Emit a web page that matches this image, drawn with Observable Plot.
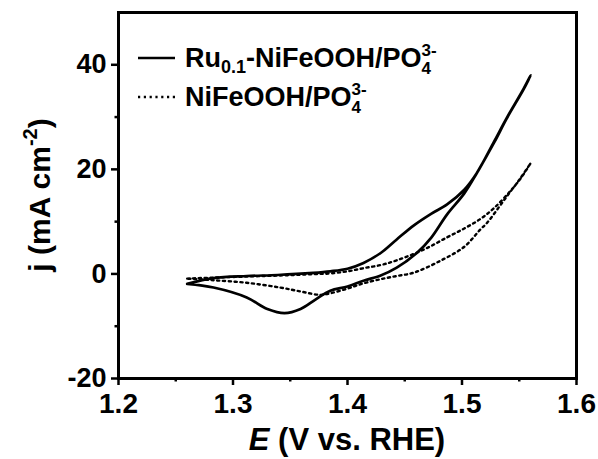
<!DOCTYPE html>
<html>
<head>
<meta charset="utf-8">
<script src="https://cdn.jsdelivr.net/npm/d3@7"></script>
<script src="https://cdn.jsdelivr.net/npm/@observablehq/plot@0.6"></script>
<style>
  html, body { margin: 0; padding: 0; background: #fff; }
  #chart svg { display: block; }
</style>
</head>
<body>
<div id="chart"></div>
<script>
// Cyclic voltammetry loops: potential E (V vs. RHE) and current density j (mA cm^-2),
// anodic sweep from 1.26 V up to 1.56 V, then the cathodic sweep back.
const ruE = [1.260, 1.283, 1.312, 1.339, 1.370, 1.385, 1.400, 1.414, 1.429, 1.443, 1.458, 1.473, 1.487, 1.502, 1.513, 1.528, 1.539, 1.554, 1.560,
             1.554, 1.539, 1.528, 1.513, 1.502, 1.487, 1.473, 1.461, 1.443, 1.429, 1.414, 1.400, 1.385, 1.372, 1.359, 1.345, 1.330, 1.312, 1.283, 1.260];
const ruJ = [-1.9, -0.8, -0.4, -0.2, 0.2, 0.5, 1.0, 2.1, 4.0, 6.6, 9.3, 11.5, 13.3, 16.1, 19.3, 25.3, 29.8, 35.5, 38.0,
             35.4, 29.7, 25.1, 19.3, 15.4, 11.4, 6.9, 4.1, 1.2, -0.3, -1.3, -2.4, -3.2, -4.9, -6.7, -7.5, -6.7, -4.5, -2.6, -1.9];

const niE = [1.260, 1.283, 1.312, 1.341, 1.370, 1.385, 1.400, 1.414, 1.429, 1.443, 1.467, 1.487, 1.502, 1.516, 1.528, 1.542, 1.551, 1.560,
             1.551, 1.537, 1.522, 1.516, 1.502, 1.481, 1.458, 1.443, 1.429, 1.414, 1.400, 1.385, 1.376, 1.360, 1.341, 1.312, 1.283, 1.260];
const niJ = [-0.9, -0.7, -0.5, -0.3, -0.05, 0.1, 0.5, 1.1, 1.7, 2.6, 4.7, 7.0, 8.7, 10.5, 12.6, 15.8, 18.2, 21.2,
             18.3, 14.2, 9.8, 8.5, 5.2, 2.5, 0.25, -0.4, -1.0, -1.8, -2.8, -3.7, -4.0, -3.4, -2.6, -1.7, -1.2, -0.9];

const xTicks = [1.2, 1.3, 1.4, 1.5, 1.6];
const xMinorTicks = [1.25, 1.35, 1.45, 1.55];
const yTicks = [-20, 0, 20, 40];
const yMinorTicks = [-10, 10, 30];

const ru = ruE.map((E, i) => ({E, j: ruJ[i]}));
const ni = niE.map((E, i) => ({E, j: niJ[i]}));

const FONT = "'Liberation Sans', Arial, Helvetica, sans-serif";
const margin = {top: 12, right: 22, bottom: 81, left: 118};
const W = 598, H = 459;
const DOTS = "2.2 3.6";

const chart = Plot.plot({
  width: W,
  height: H,
  marginTop: margin.top,
  marginRight: margin.right,
  marginBottom: margin.bottom,
  marginLeft: margin.left,
  style: {fontFamily: FONT, fontWeight: "bold", background: "#fff", color: "#000", overflow: "visible"},
  x: {domain: [1.2, 1.6]},
  y: {domain: [-20, 50]},
  marks: [
    Plot.axisX({ticks: xTicks, tickSize: 7, tickPadding: 8, strokeWidth: 2.5, fontSize: 28,
                tickFormat: d => d.toFixed(1), label: null}),
    Plot.axisX({ticks: xMinorTicks, tickSize: 3.5, strokeWidth: 2.5, text: null, label: null}),
    Plot.axisY({ticks: yTicks, tickSize: 7, tickPadding: 5, strokeWidth: 2.5, fontSize: 27,
                tickFormat: d => String(d), label: null}),
    Plot.axisY({ticks: yMinorTicks, tickSize: 3.5, strokeWidth: 2.5, text: null, label: null}),
    Plot.line(ni, {x: "E", y: "j", curve: "catmull-rom", stroke: "#000", strokeWidth: 2.4, strokeDasharray: DOTS}),
    Plot.line(ru, {x: "E", y: "j", curve: "catmull-rom", stroke: "#000", strokeWidth: 2.7}),
    Plot.frame({stroke: "#000", strokeWidth: 3})
  ]
});

document.getElementById("chart").appendChild(chart);

const svg = d3.select(chart);
const fx0 = margin.left, fx1 = W - margin.right;
const fy0 = margin.top, fy1 = H - margin.bottom;

// Axis titles with rich text
const xt = svg.append("text")
  .attr("x", (fx0 + fx1) / 2).attr("y", fy1 + 72)
  .attr("text-anchor", "middle")
  .attr("font-family", FONT).attr("font-weight", "bold").attr("font-size", 31);
xt.append("tspan").attr("font-style", "italic").text("E");
xt.append("tspan").text(" (V vs. RHE)");

const yt = svg.append("text")
  .attr("transform", `translate(${fx0 - 68},${(fy0 + fy1) / 2}) rotate(-90)`)
  .attr("text-anchor", "middle")
  .attr("font-family", FONT).attr("font-weight", "bold").attr("font-size", 30);
yt.append("tspan").text("j (mA cm");
yt.append("tspan").attr("font-size", 20).attr("dy", -13).text("-2");
yt.append("tspan").attr("dy", 13).text(")");

// Legend
const legend = [
  {dash: null, width: 2.7, parts: ["Ru", "0.1", "-NiFeOOH/PO"]},
  {dash: DOTS, width: 2.4, parts: ["NiFeOOH/PO"]}
];
const lx = fx0 + 20, ly = fy0 + 46, rowGap = 39;
legend.forEach((d, i) => {
  const y = ly + i * rowGap;
  svg.append("line")
    .attr("x1", lx).attr("x2", lx + 37).attr("y1", y).attr("y2", y)
    .attr("stroke", "#000").attr("stroke-width", d.width)
    .attr("stroke-dasharray", d.dash);
  const t = svg.append("text")
    .attr("x", lx + 47).attr("y", y + 9)
    .attr("text-anchor", "start")
    .attr("font-family", FONT).attr("font-weight", "bold").attr("font-size", 27);
  if (d.parts.length === 3) {
    t.append("tspan").text(d.parts[0]);
    t.append("tspan").attr("font-size", 18).attr("dy", 6).text(d.parts[1]);
    t.append("tspan").attr("dy", -6).text(d.parts[2]);
  } else {
    t.append("tspan").text(d.parts[0]);
  }
  // stacked subscript 4 and superscript 3-
  t.append("tspan").attr("font-size", 17).attr("dy", 7).text("4");
  t.append("tspan").attr("font-size", 17).attr("dx", -9.5).attr("dy", -18).text("3-");
});
</script>
</body>
</html>
